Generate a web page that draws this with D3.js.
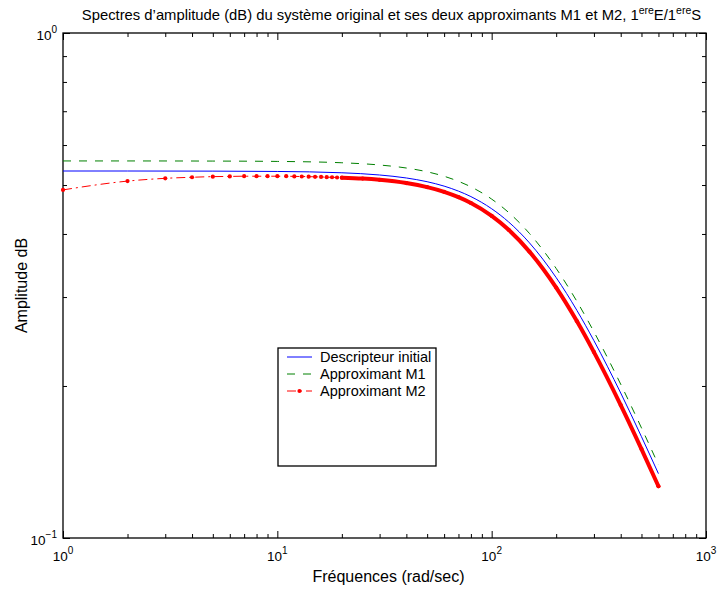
<!DOCTYPE html>
<html>
  <head>
    <meta charset="UTF-8">
    <script src="https://d3js.org/d3.v7.min.js"></script>
    <style>
        body { margin: 0; background: #fff; }
        * { font-family: "Liberation Sans", Arial, sans-serif; }
        .tickLabel { font-size: 13.5px; fill: #000; }
        .axisTitle { font-size: 16px; fill: #000; }
        .chartTitle { font-size: 14.8px; fill: #000; }
        .legendText { font-size: 14.5px; fill: #000; }
    </style>
  </head>
  <body>
    <script>
        // frequencies (rad/sec) and amplitudes
        const freqRef = [1, 2, 5, 10, 20, 30, 40, 50, 60, 70, 80, 100, 120, 150, 200, 250, 300, 400, 500, 600]
        const ampInitial = [0.533, 0.533, 0.5327, 0.5319, 0.5287, 0.5234, 0.5163, 0.5076, 0.4975, 0.4863, 0.4743,
            0.4487, 0.4225, 0.3842, 0.3278, 0.2822, 0.2459, 0.1937, 0.1587, 0.1341]
        const ampM1 = [0.558, 0.558, 0.5577, 0.5568, 0.5534, 0.5478, 0.5403, 0.5311, 0.5204, 0.5085, 0.4959,
            0.4689, 0.4412, 0.4010, 0.3418, 0.2940, 0.2561, 0.2016, 0.1652, 0.1396]

        const freqM2 = [1, 2, 3, 4, 5, 6, 7, 8, 9, 10, 11, 12, 13, 14, 15, 16, 17, 18, 19, 20,
            25, 30, 40, 50, 60, 70, 80, 100, 120, 150, 200, 250, 300, 400, 500, 600]
        const ampM2 = [0.489, 0.509, 0.5155, 0.518, 0.5195, 0.520, 0.5205, 0.5205, 0.5205, 0.5205,
            0.5205, 0.520, 0.5198, 0.5195, 0.519, 0.5187, 0.5183, 0.518, 0.5175, 0.517,
            0.5149, 0.5119, 0.5044, 0.4952, 0.4847, 0.4730, 0.4606, 0.4343, 0.4076, 0.3691,
            0.3132, 0.2686, 0.2334, 0.1833, 0.1500, 0.1266]

        const xTickExps = [0, 1, 2, 3]
        const yTickExps = [-1, 0]
        const legendNames = ['Descripteur initial', 'Approximant M1', 'Approximant M2']

        const svgWidth = 718, svgHeight = 590
        const margin = {top: 33, right: 12, bottom: 52, left: 63}
        const width = svgWidth - margin.left - margin.right
        const height = svgHeight - margin.top - margin.bottom

        const svg = d3.select('body').append('svg')
            .attr('width', svgWidth)
            .attr('height', svgHeight)

        const g = svg.append('g')
            .attr('transform', `translate(${margin.left}, ${margin.top})`)

        const x = d3.scaleLog().domain([1, 1000]).range([0, width])
        const y = d3.scaleLog().domain([0.1, 1]).range([height, 0])

        const majorX = xTickExps.map(e => Math.pow(10, e))
        const minorX = x.ticks().filter(t => !majorX.some(m => Math.abs(m - t) < 1e-9))
        const majorY = yTickExps.map(e => Math.pow(10, e))
        const minorY = y.ticks().filter(t => !majorY.some(m => Math.abs(m - t) < 1e-9))

        const addAxis = (axisFn, scale, values, size, transform) => {
            const a = g.append('g')
                .attr('transform', transform)
                .call(axisFn(scale).tickValues(values).tickSize(-size).tickFormat(''))
            a.select('.domain').remove()
            a.selectAll('line').attr('stroke', '#000').attr('stroke-width', 1)
        }
        addAxis(d3.axisBottom, x, majorX, 7, `translate(0, ${height})`)
        addAxis(d3.axisBottom, x, minorX, 4, `translate(0, ${height})`)
        addAxis(d3.axisTop, x, majorX, 7, 'translate(0, 0)')
        addAxis(d3.axisTop, x, minorX, 4, 'translate(0, 0)')
        addAxis(d3.axisLeft, y, majorY, 7, 'translate(0, 0)')
        addAxis(d3.axisLeft, y, minorY, 4, 'translate(0, 0)')
        addAxis(d3.axisRight, y, majorY, 7, `translate(${width}, 0)`)
        addAxis(d3.axisRight, y, minorY, 4, `translate(${width}, 0)`)

        // frame
        g.append('rect')
            .attr('width', width)
            .attr('height', height)
            .attr('fill', 'none')
            .attr('stroke', '#000')
            .attr('stroke-width', 1.3)

        // tick labels 10^n
        const powLabel = (sel, exp) => {
            sel.append('tspan').text('10')
            sel.append('tspan').attr('dy', -7).attr('font-size', '10px').text(exp < 0 ? '\u2212' + (-exp) : exp)
        }
        xTickExps.forEach(e => {
            const t = g.append('text')
                .attr('class', 'tickLabel')
                .attr('x', x(Math.pow(10, e)))
                .attr('y', height + 23)
                .attr('text-anchor', 'middle')
            powLabel(t, e)
        })
        yTickExps.forEach(e => {
            const t = g.append('text')
                .attr('class', 'tickLabel')
                .attr('x', -6)
                .attr('y', y(Math.pow(10, e)) + 7)
                .attr('text-anchor', 'end')
            powLabel(t, e)
        })

        // curves
        const line = (xs) => d3.line()
            .x((d, i) => x(xs[i]))
            .y(d => y(d))
            .curve(d3.curveMonotoneX)

        g.append('path')
            .attr('d', line(freqRef)(ampInitial))
            .attr('fill', 'none')
            .attr('stroke', '#0000ff')
            .attr('stroke-width', 1)

        g.append('path')
            .attr('d', line(freqRef)(ampM1))
            .attr('fill', 'none')
            .attr('stroke', '#008000')
            .attr('stroke-width', 1)
            .attr('stroke-dasharray', '8,8')

        g.append('path')
            .attr('d', line(freqM2)(ampM2))
            .attr('fill', 'none')
            .attr('stroke', '#ff0000')
            .attr('stroke-width', 1)
            .attr('stroke-dasharray', '9,4,2,4')

        // at high frequency the point markers merge into a solid band
        const denseIdx = freqM2.indexOf(20)
        g.append('path')
            .attr('d', line(freqM2.slice(denseIdx))(ampM2.slice(denseIdx)))
            .attr('fill', 'none')
            .attr('stroke', '#ff0000')
            .attr('stroke-width', 4)
            .attr('stroke-linecap', 'round')

        g.selectAll('.m2dot')
            .data(ampM2)
            .enter()
            .append('circle')
            .attr('class', 'm2dot')
            .attr('cx', (d, i) => x(freqM2[i]))
            .attr('cy', d => y(d))
            .attr('r', 2.1)
            .attr('fill', '#ff0000')

        // titles
        const title = svg.append('text')
            .attr('class', 'chartTitle')
            .attr('x', margin.left + width / 2 + 7)
            .attr('y', 20)
            .attr('text-anchor', 'middle')
        title.append('tspan').text('Spectres d\u2019amplitude (dB) du syst\u00e8me original et ses deux approximants M1 et M2, 1')
        title.append('tspan').attr('dy', -6).attr('font-size', '10.5px').text('ere')
        title.append('tspan').attr('dy', 6).text('E/1')
        title.append('tspan').attr('dy', -6).attr('font-size', '10.5px').text('ere')
        title.append('tspan').attr('dy', 6).text('S')

        svg.append('text')
            .attr('class', 'axisTitle')
            .attr('x', margin.left + width / 2 + 4)
            .attr('y', 582)
            .attr('text-anchor', 'middle')
            .text('Fr\u00e9quences (rad/sec)')

        svg.append('text')
            .attr('class', 'axisTitle')
            .attr('transform', `translate(27, ${margin.top + height / 2}) rotate(-90)`)
            .attr('text-anchor', 'middle')
            .text('Amplitude dB')

        // legend
        const lg = svg.append('g').attr('transform', 'translate(278, 348)')
        lg.append('rect')
            .attr('width', 158)
            .attr('height', 118)
            .attr('fill', '#fff')
            .attr('stroke', '#000')
            .attr('stroke-width', 1.3)
        const legendStyles = [
            {color: '#0000ff', dash: null},
            {color: '#008000', dash: '8,8'},
            {color: '#ff0000', dash: '9,4,2,4'}
        ]
        legendNames.forEach((name, i) => {
            const ly = 9 + i * 17
            lg.append('line')
                .attr('x1', 9).attr('x2', 34)
                .attr('y1', ly).attr('y2', ly)
                .attr('stroke', legendStyles[i].color)
                .attr('stroke-width', 1)
                .attr('stroke-dasharray', legendStyles[i].dash)
            if (i === 2) {
                lg.append('circle').attr('cx', 21.5).attr('cy', ly).attr('r', 2.1).attr('fill', '#ff0000')
            }
            lg.append('text')
                .attr('class', 'legendText')
                .attr('x', 42)
                .attr('y', ly + 5)
                .text(name)
        })
    </script>
  </body>
</html>
